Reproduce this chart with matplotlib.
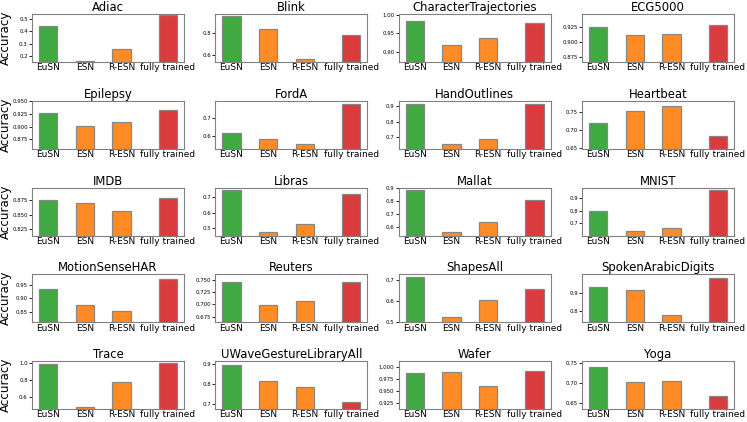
import matplotlib
matplotlib.use("Agg")
import matplotlib.pyplot as plt

models = ["EuSN", "ESN", "R-ESN", "fully trained"]
colors = ["#2ca02c", "#ff7f0e", "#ff7f0e", "#d62728"]

datasets = ["Adiac", "Blink", "CharacterTrajectories", "ECG5000",
            "Epilepsy", "FordA", "HandOutlines", "Heartbeat",
            "IMDB", "Libras", "Mallat", "MNIST",
            "MotionSenseHAR", "Reuters", "ShapesAll", "SpokenArabicDigits",
            "Trace", "UWaveGestureLibraryAll", "Wafer", "Yoga"]

adiac = [0.443, 0.158, 0.255, 0.530]
blink = [0.950, 0.835, 0.560, 0.775]
chartraj = [0.983, 0.918, 0.938, 0.978]
ecg5000 = [0.926, 0.912, 0.913, 0.929]
epilepsy = [0.927, 0.902, 0.910, 0.932]
forda = [0.612, 0.578, 0.553, 0.780]
handoutlines = [0.913, 0.662, 0.688, 0.910]
heartbeat = [0.718, 0.752, 0.765, 0.682]
imdb = [0.875, 0.871, 0.856, 0.880]
libras = [0.744, 0.478, 0.525, 0.720]
mallat = [0.885, 0.560, 0.640, 0.810]
mnist = [0.800, 0.635, 0.660, 0.963]
motionsense = [0.935, 0.876, 0.853, 0.970]
reuters = [0.746, 0.699, 0.706, 0.745]
shapesall = [0.713, 0.525, 0.607, 0.655]
spokenarabic = [0.928, 0.916, 0.778, 0.980]
trace = [0.990, 0.490, 0.775, 1.000]
uwave = [0.895, 0.815, 0.785, 0.710]
wafer = [0.986, 0.988, 0.960, 0.992]
yoga = [0.741, 0.702, 0.705, 0.668]

accs = [adiac, blink, chartraj, ecg5000, epilepsy, forda, handoutlines, heartbeat,
        imdb, libras, mallat, mnist, motionsense, reuters, shapesall, spokenarabic,
        trace, uwave, wafer, yoga]

# last bar sits a little further out so the long label fits
xpos = [0, 1, 2, 3.27]

fig, axes = plt.subplots(5, 4, figsize=(7.47, 4.22), dpi=100)
fig.subplots_adjust(left=0.0428, right=0.9826, top=0.9668, bottom=0.0308,
                    wspace=0.206, hspace=0.807)

for i, ax in enumerate(axes.flat):
    vals = accs[i]
    ax.bar(xpos, vals, width=0.5, color=colors, alpha=0.9,
           edgecolor="gray", linewidth=0.9)
    ax.set_xticks(xpos)
    ax.set_xticklabels(models)
    ax.set_ylim(min(vals) * 0.95, max(vals) * 1.02)
    ax.set_title(datasets[i], fontsize=8.4, pad=2)
    ax.tick_params(axis="x", labelsize=6.5, length=0, pad=1)
    ax.tick_params(axis="y", labelsize=3.9, length=2, width=0.6, pad=1)
    for s in ax.spines.values():
        s.set_color("gray")
    if i % 4 == 0:
        ax.set_ylabel("Accuracy", fontsize=8.6)
        ax.yaxis.set_label_coords(-0.13, 0.5)

plt.savefig("out.png", dpi=100)
